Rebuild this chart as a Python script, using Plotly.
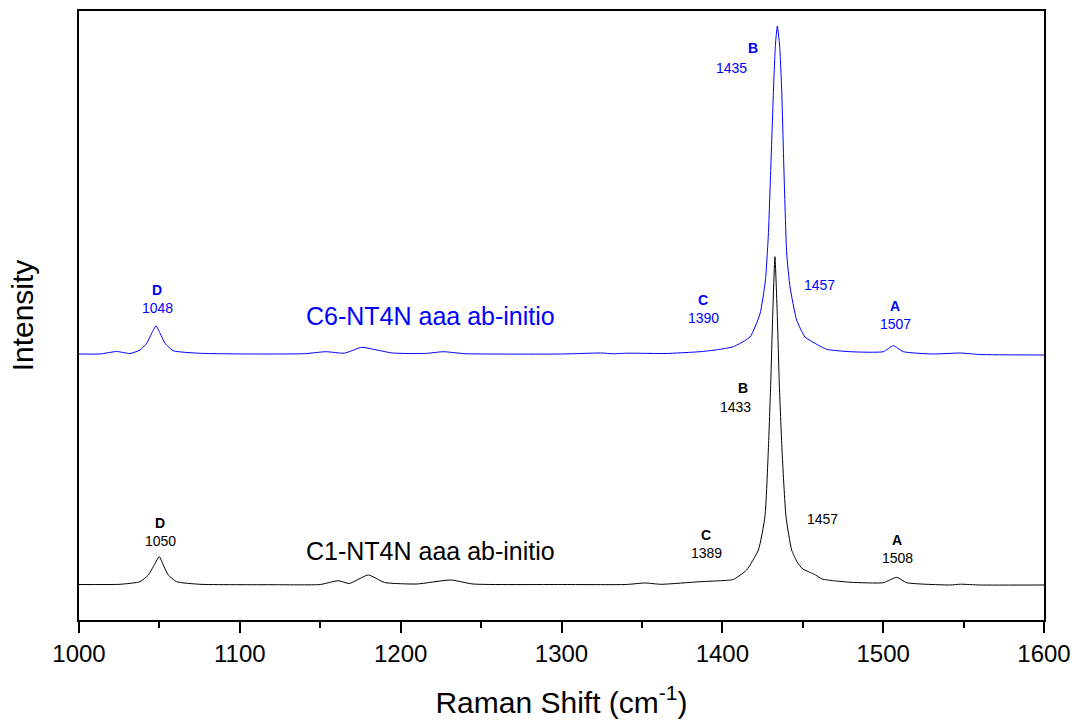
import plotly.graph_objects as go

# C6-NT4N aaa ab-initio (blue) spectrum
blue_x = [1000, 1013, 1023.4, 1031.7, 1037.9, 1042.1, 1045.2, 1047.9, 1050.4, 1053.5, 1058.6,
          1075.2, 1106.3, 1140, 1153.6, 1165, 1175.8, 1183, 1195, 1215, 1226.5, 1240, 1300,
          1325, 1332, 1340, 1350, 1365, 1386.1, 1397, 1406.8, 1417.2, 1423.4, 1426.8, 1428.6,
          1430.3, 1431.8, 1433.0, 1434.2, 1435.6, 1436.9, 1438.3, 1440.0, 1442.1, 1446.2,
          1451.4, 1457.6, 1464.9, 1479.4, 1500.1, 1506.3, 1512.5, 1531.2, 1547.8, 1560, 1600]
blue_y = [266, 266, 268.5, 266.5, 270, 276.7, 286.7, 294, 286.7, 276.7, 269.3,
          266.7, 266, 266.3, 268.3, 266.8, 272.7, 270.7, 267, 266.5, 268.3, 266.3, 266,
          267, 266.2, 266.8, 266.7, 266.5, 268.3, 270.3, 273.3, 283, 306, 340, 385,
          460, 530, 575, 594, 575, 530, 450, 367, 333, 300,
          283, 276.7, 270.7, 268.3, 268.3, 274.3, 268.3, 266, 267, 265.5, 265]

# C1-NT4N aaa ab-initio (black) spectrum
black_x = [1000, 1025.5, 1037.9, 1043.1, 1046.2, 1049.9, 1052.4, 1055.5, 1060.7, 1075.2, 1120,
           1150, 1161.2, 1168, 1179.9, 1190, 1210, 1231.1, 1245, 1300, 1340, 1352, 1362,
           1386.1, 1398, 1406.8, 1415.1, 1422.4, 1426.5, 1428.6, 1430.1, 1431.3, 1432.7, 1434.2,
           1435.4, 1437.1, 1439.6, 1443.1, 1446.5, 1450, 1454, 1458, 1462, 1469, 1480,
           1500.1, 1508.4, 1514.6, 1541.6, 1548, 1560, 1600]
black_y = [35.5, 35.7, 38.3, 45, 53.3, 63.3, 55, 45, 38.3, 35.7, 35.3,
           35.5, 39.3, 36.5, 45, 37.5, 36, 40, 36, 35.5, 35.5, 37, 35.7,
           38.3, 39.2, 40.5, 50, 70, 103.3, 170, 237, 303.3, 363.3, 303.3,
           237, 170, 103.3, 70, 58, 51, 48, 45, 41, 39.3, 37.7,
           37.3, 42.7, 37.3, 35, 35.8, 35, 35]

# peak labels: letter / wavenumber text and their positions
blue_letters = ["D", "C", "B", "A"]
blue_numbers = ["1048", "1390", "1435", "1507"]
blue_letter_x = [1048.5, 1388, 1419.1, 1507.4]
blue_number_x = [1048.5, 1388, 1405.4, 1507.4]
blue_letter_y = [330, 320, 572, 314]
blue_number_y = [312, 302, 552, 296]

black_letters = ["D", "C", "B", "A"]
black_numbers = ["1050", "1389", "1433", "1508"]
black_letter_x = [1050.4, 1389.9, 1412.8, 1508.6]
black_number_x = [1050.4, 1389.9, 1407.9, 1508.6]
black_letter_y = [97, 85, 232, 80]
black_number_y = [79, 67, 213, 62]

BLUE = "#0000FF"
BLACK = "#000000"
FONT = "Arial, Liberation Sans, sans-serif"

fig = go.Figure()
fig.add_trace(go.Scatter(x=blue_x, y=blue_y, mode="lines",
                         line=dict(color=BLUE, width=1, shape="spline", smoothing=0.5),
                         showlegend=False, hoverinfo="skip"))
fig.add_trace(go.Scatter(x=black_x, y=black_y, mode="lines",
                         line=dict(color=BLACK, width=1, shape="spline", smoothing=0.5),
                         showlegend=False, hoverinfo="skip"))

ann = []
for letters, nums, lx, nx, ly, ny, col in [
    (blue_letters, blue_numbers, blue_letter_x, blue_number_x, blue_letter_y, blue_number_y, BLUE),
    (black_letters, black_numbers, black_letter_x, black_number_x, black_letter_y, black_number_y, BLACK)]:
    for L, N, x1, x2, y1, y2 in zip(letters, nums, lx, nx, ly, ny):
        ann.append(dict(x=x1, y=y1, text="<b>" + L + "</b>", showarrow=False,
                        font=dict(family=FONT, size=14, color=col)))
        ann.append(dict(x=x2, y=y2, text=N, showarrow=False,
                        font=dict(family=FONT, size=14, color=col)))

ann.append(dict(x=1460.7, y=335, text="1457", showarrow=False,
                font=dict(family=FONT, size=14, color=BLUE)))
ann.append(dict(x=1462, y=101, text="1457", showarrow=False,
                font=dict(family=FONT, size=14, color=BLACK)))
ann.append(dict(x=1218.5, y=304, text="C6-NT4N aaa ab-initio", showarrow=False,
                font=dict(family=FONT, size=25, color=BLUE)))
ann.append(dict(x=1218.5, y=69, text="C1-NT4N aaa ab-initio", showarrow=False,
                font=dict(family=FONT, size=25, color=BLACK)))

fig.update_layout(
    width=1074, height=720,
    margin=dict(l=79, r=30, t=11, b=100),
    paper_bgcolor="white", plot_bgcolor="white",
    annotations=ann,
    font=dict(family=FONT, color="black"),
)
fig.update_xaxes(
    range=[1000, 1600], showgrid=False, zeroline=False, automargin=False,
    showline=True, linecolor="black", linewidth=2, mirror=True,
    ticks="outside", ticklen=11, tickwidth=2, tickcolor="black",
    dtick=100, tick0=1000,
    tickfont=dict(family=FONT, size=24, color="black"),
    minor=dict(dtick=50, ticks="outside", ticklen=6, tickwidth=2, tickcolor="black", showgrid=False),
    title=dict(text="Raman Shift (cm<sup>-1</sup>)", font=dict(family=FONT, size=30, color="black"),
               standoff=26),
)
fig.update_yaxes(
    range=[0, 609], showgrid=False, zeroline=False, automargin=False,
    showline=True, linecolor="black", linewidth=2, mirror=True,
    ticks="", showticklabels=False,
    title=dict(text="Intensity", font=dict(family=FONT, size=30, color="black"), standoff=35),
)

fig.write_html("out.html")
